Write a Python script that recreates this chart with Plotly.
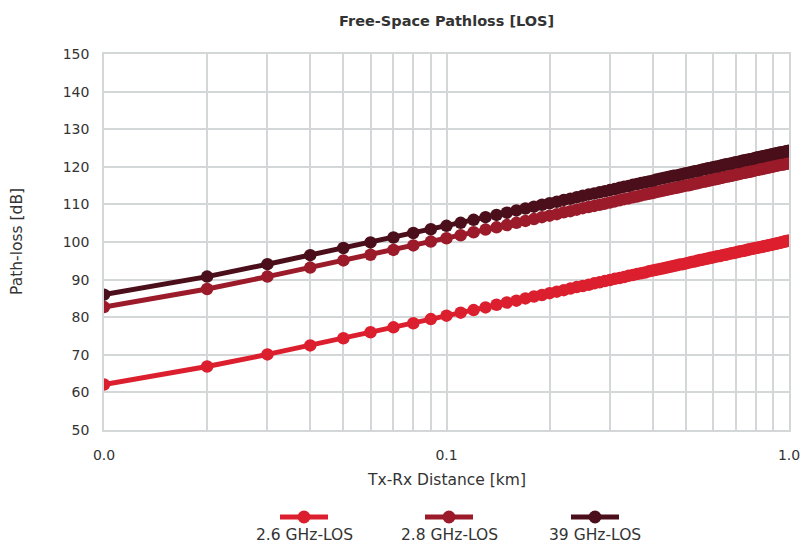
import plotly.graph_objects as go

# ---------------- data ----------------
distance_km = [
    0.01, 0.02, 0.03, 0.04, 0.05, 0.06, 0.07, 0.08, 0.09, 0.10,
    0.11, 0.12, 0.13, 0.14, 0.15, 0.16, 0.17, 0.18, 0.19, 0.20,
    0.21, 0.22, 0.23, 0.24, 0.25, 0.26, 0.27, 0.28, 0.29, 0.30,
    0.31, 0.32, 0.33, 0.34, 0.35, 0.36, 0.37, 0.38, 0.39, 0.40,
    0.41, 0.42, 0.43, 0.44, 0.45, 0.46, 0.47, 0.48, 0.49, 0.50,
    0.51, 0.52, 0.53, 0.54, 0.55, 0.56, 0.57, 0.58, 0.59, 0.60,
    0.61, 0.62, 0.63, 0.64, 0.65, 0.66, 0.67, 0.68, 0.69, 0.70,
    0.71, 0.72, 0.73, 0.74, 0.75, 0.76, 0.77, 0.78, 0.79, 0.80,
    0.81, 0.82, 0.83, 0.84, 0.85, 0.86, 0.87, 0.88, 0.89, 0.90,
    0.91, 0.92, 0.93, 0.94, 0.95, 0.96, 0.97, 0.98, 0.99, 1.00,
]

pl_2_6_ghz = [
    62.1, 66.9, 70.1, 72.5, 74.4, 76.0, 77.3, 78.4, 79.5, 80.4,
    81.2, 81.9, 82.6, 83.3, 83.9, 84.4, 85.0, 85.5, 85.9, 86.4,
    86.8, 87.2, 87.6, 88.0, 88.3, 88.6, 89.0, 89.3, 89.6, 89.9,
    90.2, 90.4, 90.7, 91.0, 91.2, 91.5, 91.7, 91.9, 92.2, 92.4,
    92.6, 92.8, 93.0, 93.2, 93.4, 93.6, 93.8, 94.0, 94.1, 94.3,
    94.5, 94.7, 94.8, 95.0, 95.2, 95.3, 95.5, 95.6, 95.8, 95.9,
    96.1, 96.2, 96.3, 96.5, 96.6, 96.7, 96.9, 97.0, 97.1, 97.2,
    97.4, 97.5, 97.6, 97.7, 97.8, 98.0, 98.1, 98.2, 98.3, 98.4,
    98.5, 98.6, 98.7, 98.8, 98.9, 99.0, 99.1, 99.2, 99.3, 99.4,
    99.5, 99.6, 99.7, 99.8, 99.9, 100.0, 100.1, 100.2, 100.3, 100.3,
]

pl_2_8_ghz = [
    82.7, 87.5, 90.8, 93.2, 95.1, 96.6, 97.9, 99.1, 100.1, 101.0,
    101.8, 102.6, 103.3, 103.9, 104.5, 105.1, 105.6, 106.1, 106.6, 107.0,
    107.4, 107.9, 108.2, 108.6, 109.0, 109.3, 109.6, 109.9, 110.2, 110.5,
    110.8, 111.1, 111.4, 111.6, 111.9, 112.1, 112.4, 112.6, 112.8, 113.0,
    113.3, 113.5, 113.7, 113.9, 114.1, 114.3, 114.4, 114.6, 114.8, 115.0,
    115.1, 115.3, 115.5, 115.6, 115.8, 116.0, 116.1, 116.3, 116.4, 116.6,
    116.7, 116.8, 117.0, 117.1, 117.3, 117.4, 117.5, 117.6, 117.8, 117.9,
    118.0, 118.2, 118.3, 118.4, 118.5, 118.6, 118.7, 118.8, 119.0, 119.1,
    119.2, 119.3, 119.4, 119.5, 119.6, 119.7, 119.8, 119.9, 120.0, 120.1,
    120.2, 120.3, 120.4, 120.5, 120.6, 120.6, 120.7, 120.8, 120.9, 121.0,
]

pl_39_ghz = [
    86.0, 90.8, 94.1, 96.5, 98.4, 99.9, 101.2, 102.4, 103.4, 104.3,
    105.1, 105.9, 106.6, 107.2, 107.8, 108.4, 108.9, 109.4, 109.9, 110.3,
    110.7, 111.2, 111.5, 111.9, 112.3, 112.6, 112.9, 113.2, 113.5, 113.8,
    114.1, 114.4, 114.7, 114.9, 115.2, 115.4, 115.7, 115.9, 116.1, 116.3,
    116.6, 116.8, 117.0, 117.2, 117.4, 117.6, 117.7, 117.9, 118.1, 118.3,
    118.4, 118.6, 118.8, 118.9, 119.1, 119.3, 119.4, 119.6, 119.7, 119.9,
    120.0, 120.1, 120.3, 120.4, 120.6, 120.7, 120.8, 120.9, 121.1, 121.2,
    121.3, 121.4, 121.6, 121.7, 121.8, 121.9, 122.0, 122.1, 122.2, 122.4,
    122.5, 122.6, 122.7, 122.8, 122.9, 123.0, 123.1, 123.2, 123.3, 123.4,
    123.5, 123.6, 123.7, 123.8, 123.8, 123.9, 124.0, 124.1, 124.2, 124.3,
]

series_names = ["2.6 GHz-LOS", "2.8 GHz-LOS", "39 GHz-LOS"]
series_values = [pl_2_6_ghz, pl_2_8_ghz, pl_39_ghz]
series_colors = ["#DC1F2E", "#9B1B2A", "#4A0F1A"]

x_major_ticks = [0.01, 0.1, 1.0]
x_major_labels = ["0.0", "0.1", "1.0"]
x_minor_grid = [0.02, 0.03, 0.04, 0.05, 0.06, 0.07, 0.08, 0.09,
                0.2, 0.3, 0.4, 0.5, 0.6, 0.7, 0.8, 0.9]
y_ticks = [50, 60, 70, 80, 90, 100, 110, 120, 130, 140, 150]

# ---------------- figure ----------------
W, H = 802, 543
ML, MR, MT, MB = 104, 13, 54, 113
PW, PH = W - ML - MR, H - MT - MB

FONT = "DejaVu Sans, Verdana, sans-serif"
TXT = "#333333"
GRID = "#D3D7D7"

def px_x(px):
    return (px - ML) / PW

def px_y(py):
    return (H - MB - py) / PH

fig = go.Figure()
for name, vals, col in zip(series_names, series_values, series_colors):
    fig.add_trace(go.Scatter(
        x=distance_km, y=vals, name=name, mode="lines+markers",
        line=dict(color=col, width=5),
        marker=dict(color=col, size=12.5),
        showlegend=False,
    ))

tickvals = sorted(x_major_ticks + x_minor_grid)
ticktext = [x_major_labels[x_major_ticks.index(v)] if v in x_major_ticks else "" for v in tickvals]

fig.update_xaxes(
    type="log", range=[-2, 0], automargin=False,
    tickmode="array", tickvals=tickvals, ticktext=ticktext,
    showgrid=True, gridcolor=GRID, gridwidth=1.5,
    showline=True, linecolor=GRID, linewidth=1.5, mirror=True,
    zeroline=False, ticks="", ticklabelstandoff=11,
    tickfont=dict(family=FONT, size=14, color=TXT),
)
fig.update_yaxes(
    range=[50, 150], automargin=False, tickmode="array", tickvals=y_ticks,
    showgrid=True, gridcolor=GRID, gridwidth=1.5,
    showline=True, linecolor=GRID, linewidth=1.5, mirror=True,
    zeroline=False, ticks="", ticklabelstandoff=10,
    tickfont=dict(family=FONT, size=14, color=TXT),
)

annotations = [
    dict(text="<b>Free-Space Pathloss [LOS]</b>", x=0.5, y=px_y(21), xref="paper", yref="paper",
         showarrow=False, font=dict(family=FONT, size=14.5, color=TXT), xanchor="center", yanchor="middle"),
    dict(text="Tx-Rx Distance [km]", x=0.5, y=px_y(480), xref="paper", yref="paper",
         showarrow=False, font=dict(family=FONT, size=15.5, color=TXT), xanchor="center", yanchor="middle"),
    dict(text="Path-loss [dB]", x=px_x(17), y=0.5, xref="paper", yref="paper", textangle=-90,
         showarrow=False, font=dict(family=FONT, size=15.5, color=TXT), xanchor="center", yanchor="middle"),
]

shapes = []
legend_centers = [304, 449, 595]
for cx, name, col in zip(legend_centers, series_names, series_colors):
    shapes.append(dict(type="line", xref="paper", yref="paper",
                       x0=px_x(cx - 24), x1=px_x(cx + 24), y0=px_y(517), y1=px_y(517),
                       line=dict(color=col, width=5)))
    shapes.append(dict(type="circle", xref="paper", yref="paper",
                       xsizemode="pixel", ysizemode="pixel",
                       xanchor=px_x(cx), yanchor=px_y(517),
                       x0=-6.5, x1=6.5, y0=-6.5, y1=6.5,
                       fillcolor=col, line=dict(color=col, width=0)))
    annotations.append(dict(text=name, x=px_x(cx), y=px_y(535), xref="paper", yref="paper",
                            showarrow=False, font=dict(family=FONT, size=15.5, color=TXT),
                            xanchor="center", yanchor="middle"))

fig.update_layout(
    width=W, height=H,
    margin=dict(l=ML, r=MR, t=MT, b=MB),
    paper_bgcolor="white", plot_bgcolor="white",
    font=dict(family=FONT, color=TXT),
    annotations=annotations, shapes=shapes,
    showlegend=False,
)

fig.write_html(
    "out.html",
    config={"displayModeBar": False},
    post_script="document.body.style.margin='0px';document.body.style.padding='0px';"
                "document.documentElement.style.overflow='hidden';",
)
